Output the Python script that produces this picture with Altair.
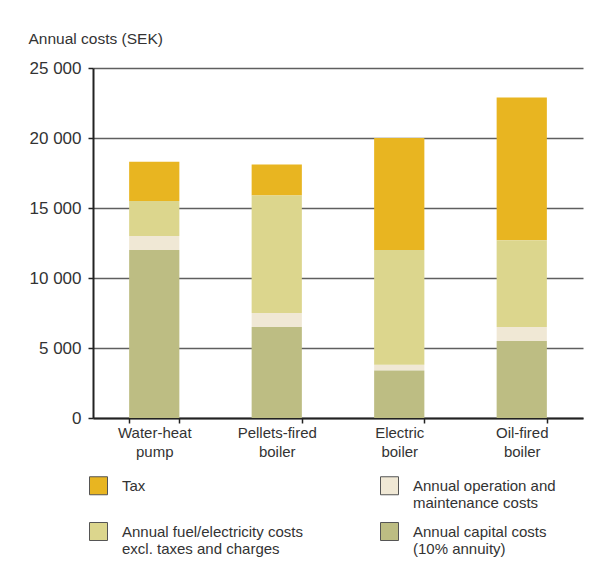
import altair as alt
import pandas as pd

# Categories (x axis)
categories = ["Water-heat\npump", "Pellets-fired\nboiler", "Electric\nboiler", "Oil-fired\nboiler"]

# Series (legend order)
series = [
    "Tax",
    "Annual operation and\nmaintenance costs",
    "Annual fuel/electricity costs\nexcl. taxes and charges",
    "Annual capital costs\n(10% annuity)",
]
colors = ["#e8b521", "#f0e8d5", "#dcd68d", "#bdbd83"]
stack_order = [3, 1, 2, 0]  # capital at bottom, then O&M, fuel, tax on top

# Values (SEK per year) per series, per category
tax = [2800, 2200, 8000, 10200]
om = [1000, 1000, 400, 1000]
fuel = [2500, 8400, 8200, 6200]
capital = [12000, 6500, 3400, 5500]

y_ticks = [0, 5000, 10000, 15000, 20000, 25000]

values_by_series = [tax, om, fuel, capital]
rows = []
for s, vals, o in zip(series, values_by_series, stack_order):
    for c, v in zip(categories, vals):
        rows.append({"category": c, "series": s, "value": v, "order": o})
df = pd.DataFrame(rows)

FONT = "Liberation Sans"
TXT = "#333333"

chart = alt.Chart(df).mark_bar().encode(
    x=alt.X(
        "category:N",
        sort=categories,
        scale=alt.Scale(paddingInner=0.59, paddingOuter=0.295),
        axis=alt.Axis(
            title=None,
            labelAngle=0,
            labelExpr="split(datum.label, '\\n')",
            labelFont=FONT,
            labelFontSize=15,
            labelColor=TXT,
            labelLineHeight=19,
            labelPadding=2,
            tickBand="extent",
            tickSize=5,
            tickWidth=1.5,
            tickColor="#222222",
            domainColor="#222222",
            domainWidth=2,
            grid=False,
        ),
    ),
    y=alt.Y(
        "value:Q",
        stack="zero",
        scale=alt.Scale(domain=[0, 25000], nice=False),
        axis=alt.Axis(
            title="Annual costs (SEK)",
            titleAngle=0,
            titleAlign="left",
            titleBaseline="alphabetic",
            titleX=-65,
            titleY=-25,
            titleFont=FONT,
            titleFontSize=15.5,
            titleFontWeight="normal",
            titleColor=TXT,
            values=y_ticks,
            labelExpr="replace(format(datum.value, ','), ',', ' ')",
            labelFont=FONT,
            labelFontSize=17,
            labelColor=TXT,
            labelPadding=7,
            tickSize=5,
            tickWidth=1.5,
            tickColor="#222222",
            domainColor="#222222",
            domainWidth=2,
            grid=True,
            gridColor="#5f5f5f",
            gridWidth=1.3,
        ),
    ),
    color=alt.Color(
        "series:N",
        scale=alt.Scale(domain=series, range=colors),
        legend=alt.Legend(
            title=None,
            orient="none",
            legendX=-4,
            legendY=408,
            direction="horizontal",
            columns=2,
            columnPadding=75,
            rowPadding=9,
            symbolType="square",
            symbolSize=324,
            symbolStrokeColor="#555555",
            symbolStrokeWidth=1,
            symbolOpacity=1,
            labelExpr="split(indexof(datum.label, '\\n') < 0 ? datum.label + '\\n ' : datum.label, '\\n')",
            labelFont=FONT,
            labelFontSize=15,
            labelColor=TXT,
            labelLimit=400,
            labelOffset=14,
            labelBaseline="middle",
        ),
    ),
    order=alt.Order("order:Q"),
).properties(
    width=490,
    height=350,
    autosize=alt.AutoSizeParams(type="none"),
    padding={"left": 85, "top": 60, "right": 4, "bottom": 147},
    background="white",
).configure_view(stroke=None)

chart.save("out.html", embed_options={"renderer": "svg", "actions": False})
